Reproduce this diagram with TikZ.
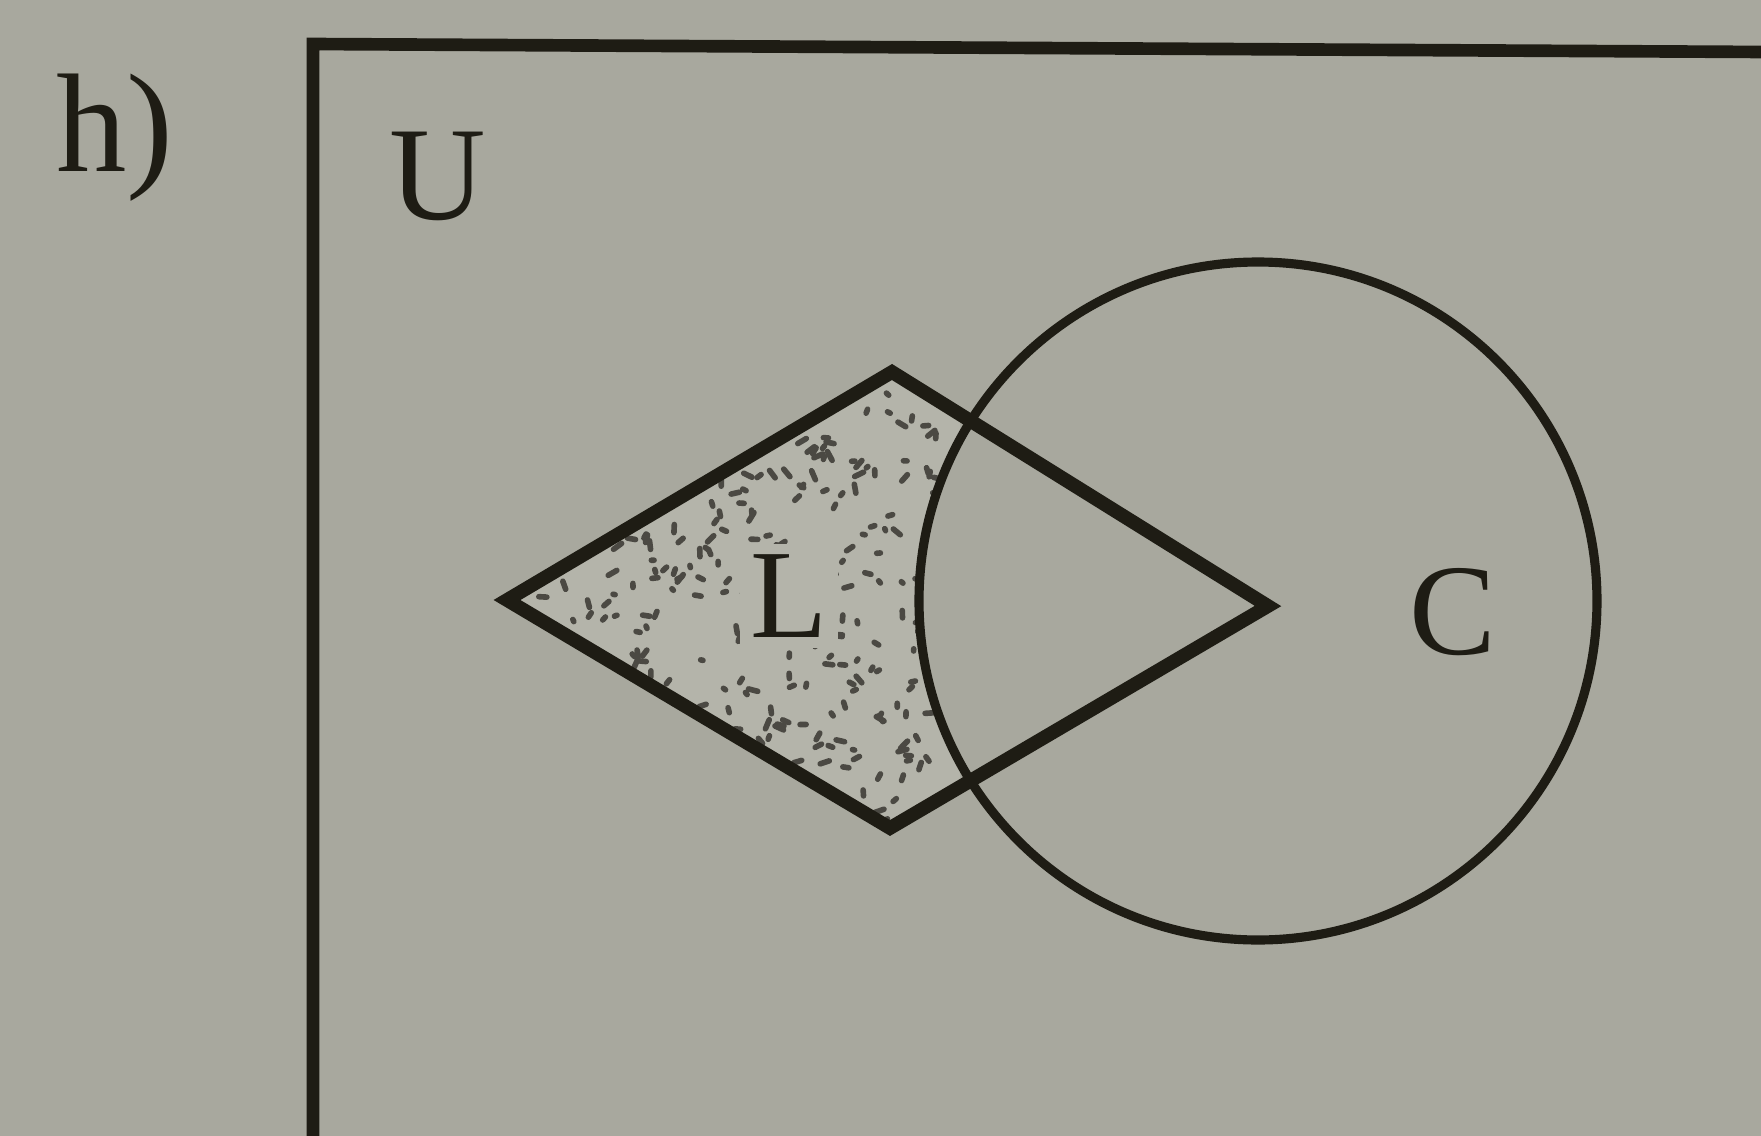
\documentclass[tikz,border=0pt]{standalone}
\usepackage{fontspec}
\setmainfont{Liberation Serif}
\definecolor{paper}{RGB}{168,168,158}
\definecolor{shadepaper}{RGB}{180,180,170}
\definecolor{ink}{RGB}{30,28,20}
\tikzset{
  frameline/.style={draw=ink, line width=3.6pt, line join=miter},
  kiteline/.style={draw=ink, line width=3.9pt, line join=miter},
  circline/.style={draw=ink, line width=2.6pt},
  lbl/.style={text=ink, inner sep=0pt, font=\fontsize{38}{38}\selectfont},
  speck/.style={draw=ink!80, line width=1.6pt, line cap=round}
}
\begin{document}
\begin{tikzpicture}[x=0.1mm, y=-0.1mm]
\fill[paper] (0,0) rectangle (1761,1136);
\useasboundingbox (0,0) rectangle (1761,1136);

% coordinates
\coordinate (kl) at (507,600);
\coordinate (kt) at (892,372);
\coordinate (kr) at (1268,606);
\coordinate (kb) at (890,828);
\coordinate (cc) at (1258,601);

% shaded region: kite minus circle
\begin{scope}[even odd rule]
  \clip (kl) -- (kt) -- (kr) -- (kb) -- cycle;
  \clip (0,0) rectangle (1761,1136) (cc) circle (339);
  \fill[shadepaper] (480,350) rectangle (960,850);
  \pgfmathsetseed{11}
  \foreach \i in {1,...,420}{
    \pgfmathsetmacro{\px}{500+440*rnd}
    \pgfmathsetmacro{\py}{360+480*rnd}
    \pgfmathsetmacro{\ang}{360*rnd}
    \pgfmathsetmacro{\len}{2+8*rnd}
    \draw[speck] (\px,\py) -- ++(\ang:\len);
  }
\end{scope}

% universe frame (open to right and bottom)
\coordinate (fb) at (313,1140);
\coordinate (ftl) at (313,44);
\coordinate (ftr) at (1765,52);
\draw[frameline] (fb) -- (ftl) -- (ftr);

% circle C
\node[circle, circline, minimum size=67.8mm, inner sep=0pt] (C) at (cc) {};

% kite L
\draw[kiteline] (kl) -- (kt) -- (kr) -- (kb) -- cycle;

% labels
\node[lbl, font=\fontsize{40}{40}\selectfont] (h) at (115,138) {h)};
\node[lbl] (U) at (438,176) {U};
\node[lbl, font=\fontsize{36}{36}\selectfont, fill=shadepaper, inner sep=3pt] (L) at (789,596) {L};
\node[lbl, font=\fontsize{37}{37}\selectfont] (Clbl) at (1453,612) {C};
\end{tikzpicture}
\end{document}
